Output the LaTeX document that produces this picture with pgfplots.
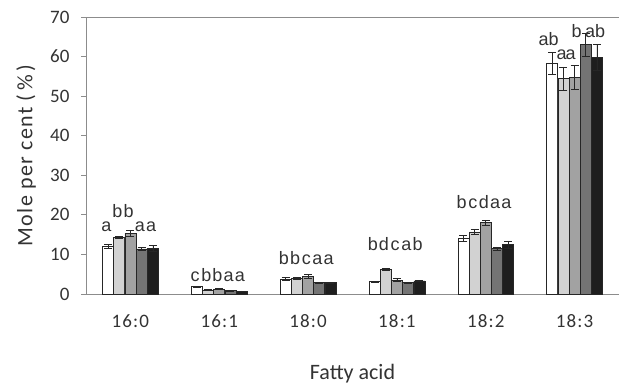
\documentclass[border=0pt]{standalone}
\usepackage{pgfplots}
\pgfplotsset{compat=1.18}
\usepackage{fontspec}
\setmainfont{Carlito}
\newfontfamily\arialf{Liberation Sans}
\newfontfamily\spaced[LetterSpace=6]{Carlito}
\definecolor{txt}{HTML}{333333}
\definecolor{axl}{HTML}{8C8C8C}
\definecolor{c1}{HTML}{FFFFFF}
\definecolor{c2}{HTML}{D2D2D2}
\definecolor{c3}{HTML}{A2A2A2}
\definecolor{c4}{HTML}{747474}
\definecolor{c5}{HTML}{1E1E1E}
\pgfplotsset{common/.style={
  at={(0,0)}, anchor=south west,
  scale only axis,
  width=533pt, height=277pt,
  xmin=-0.5, xmax=5.5,
  ymin=0, ymax=70,
  clip=false}}
\begin{document}
\begin{tikzpicture}
\begin{axis}[
  common,
  name=ax,
  ybar=0.2pt, bar width=11pt,
  ytick={0,10,...,70},
  xtick={0,1,2,3,4,5},
  xticklabels={16:0,16:1,18:0,18:1,18:2,18:3},
  /pgf/number format/assume math mode=true,
  axis line style={axl, line width=0.9pt},
  tick align=outside,
  major tick length=5pt,
  ytick style={axl, line width=0.9pt},
  xtick style={draw=none},
  tick label style={font=\fontsize{19}{21}\selectfont, text=txt},
  xticklabel style={anchor=center, yshift=-22pt, font=\spaced\fontsize{19}{21}\selectfont},
  yticklabel style={xshift=-8pt},
  xlabel={Fatty acid},
  ylabel={Mole per cent (\,\%\,)},
  every axis x label/.style={at={(axis description cs:0.5,-0.289)}, anchor=center, font=\fontsize{22}{24}\selectfont, text=txt},
  every axis y label/.style={at={(axis description cs:-0.1126,0.5)}, anchor=center, rotate=90, font=\spaced\fontsize{22}{24}\selectfont, text=txt},
  error bars/y dir=both, error bars/y explicit,
  error bars/error bar style={line width=0.6pt, color=black!85},
  error bars/error mark options={rotate=90, mark size=4pt, line width=0.6pt, color=black!85},
]
\addplot[draw=black!85, line width=0.6pt, fill=c1] coordinates {
  (0,12.0) +- (0,0.5) (1,1.85) +- (0,0.1) (2,3.8) +- (0,0.3) (3,3.1) +- (0,0.1) (4,14.0) +- (0,0.8) (5,58.3) +- (0,2.7)};
\addplot[draw=black!85, line width=0.6pt, fill=c2] coordinates {
  (0,14.3) +- (0,0.3) (1,1.0) +- (0,0.1) (2,3.95) +- (0,0.2) (3,6.2) +- (0,0.3) (4,15.7) +- (0,0.6) (5,54.5) +- (0,2.9)};
\addplot[draw=black!85, line width=0.6pt, fill=c3] coordinates {
  (0,15.3) +- (0,0.7) (1,1.25) +- (0,0.1) (2,4.4) +- (0,0.5) (3,3.5) +- (0,0.4) (4,18.0) +- (0,0.6) (5,54.7) +- (0,3.0)};
\addplot[draw=black!85, line width=0.6pt, fill=c4] coordinates {
  (0,11.4) +- (0,0.3) (1,0.9) +- (0,0.1) (2,2.9) +- (0,0.1) (3,2.9) +- (0,0.1) (4,11.5) +- (0,0.4) (5,63.0) +- (0,3.0)};
\addplot[draw=black!85, line width=0.6pt, fill=c5] coordinates {
  (0,11.5) +- (0,0.8) (1,0.7) +- (0,0.1) (2,2.9) +- (0,0.1) (3,3.3) +- (0,0.1) (4,12.5) +- (0,0.9) (5,59.8) +- (0,3.2)};
\end{axis}
\begin{axis}[common, hide axis]
% significance letters
\addplot[only marks, mark=none,
  nodes near coords, point meta=explicit symbolic,
  every node near coord/.style={anchor=base, inner sep=0pt, font=\arialf\fontsize{18}{20}\selectfont, text=txt}]
coordinates {
  (-0.272,15.7)[a] (-0.146,19.4)[b] (-0.020,19.4)[b] (0.106,15.7)[a] (0.232,15.7)[a]
  (0.728,3.1)[c] (0.854,3.1)[b] (0.980,3.1)[b] (1.106,3.1)[a] (1.232,3.1)[a]
  (1.728,7.5)[b] (1.854,7.5)[b] (1.980,7.5)[c] (2.106,7.5)[a] (2.232,7.5)[a]
  (2.728,11.1)[b] (2.854,11.1)[d] (2.980,11.1)[c] (3.106,11.1)[a] (3.232,11.1)[b]
  (3.728,21.6)[b] (3.854,21.6)[c] (3.980,21.6)[d] (4.106,21.6)[a] (4.232,21.6)[a]
  (4.708,62.9)[ab] (4.854,59.2)[a] (4.955,59.2)[a] (5.022,64.8)[b] (5.232,64.8)[ab]
};
\end{axis}
\pgfresetboundingbox
\path[use as bounding box] ([xshift=-86pt,yshift=-91pt]ax.south west) rectangle ([yshift=17pt]ax.north east);
\end{tikzpicture}
\end{document}
